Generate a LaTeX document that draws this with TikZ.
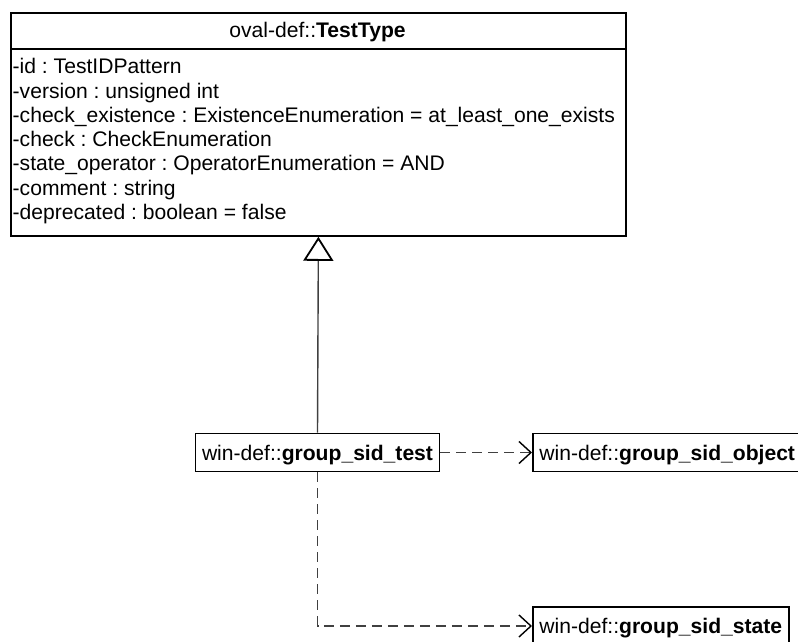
\documentclass[tikz,border=0pt]{standalone}
\usepackage{fontspec}
\setmainfont{Liberation Sans}
\usetikzlibrary{arrows.meta}
\frenchspacing
\begin{document}
\begin{tikzpicture}[x=1pt,y=-1pt,
  every node/.style={font=\fontsize{21.1}{24}\selectfont},
  umlbox/.style={draw=black, line width=1.8pt, fill=white},
  smallbox/.style={umlbox, anchor=west, inner xsep=6.5pt, inner ysep=0pt,
    minimum height=38pt, text height=17pt, text depth=2pt},
  attr/.style={anchor=base west, inner sep=0pt},
  conn/.style={draw=black!75, line width=1.4pt},
  dep/.style={conn, dash pattern=on 10pt off 6pt,
    -{Straight Barb[length=12pt,width=22pt,color=black,line width=1.4pt]}},
  gen/.style={conn, -{Triangle[open,length=24pt,width=30pt,color=black,line width=1.8pt]}}
]
\useasboundingbox (0,0) rectangle (798,642);
% class box
\node[umlbox, anchor=north west, minimum width=615pt, minimum height=223pt, inner sep=0pt] (cls) at (10,12) {};
\draw[line width=1.8pt] ([yshift=-37pt]cls.north west) -- ([yshift=-37pt]cls.north east);
\node[anchor=base, inner sep=0pt] (title) at (317.5,38) {oval-def::\textbf{TestType}};
\node[attr] (a1) at (12.5,74) {-id : TestIDPattern};
\node[attr] (a2) at (12.5,98.2) {-version : unsigned int};
\node[attr] (a3) at (12.5,122.4) {-check\_existence : ExistenceEnumeration = at\_least\_one\_exists};
\node[attr] (a4) at (12.5,146.6) {-check : CheckEnumeration};
\node[attr] (a5) at (12.5,170.8) {-state\_operator : OperatorEnumeration = AND};
\node[attr] (a6) at (12.5,195) {-comment : string};
\node[attr] (a7) at (12.5,219.2) {-deprecated : boolean = false};
% small boxes
\node[smallbox, anchor=center] (test) at (317.5,452.5) {win-def::\textbf{group\_sid\_test}};
\node[smallbox] (obj) at (532,452.5) {win-def::\textbf{group\_sid\_object}};
\node[smallbox] (state) at (532,626) {win-def::\textbf{group\_sid\_state}};
% connectors
\draw[gen] (test.north) -- (cls.south);
\draw[dep] (test.east) -- (obj.west);
\draw[dep] (test.south) |- (state.west);
\end{tikzpicture}
\end{document}
